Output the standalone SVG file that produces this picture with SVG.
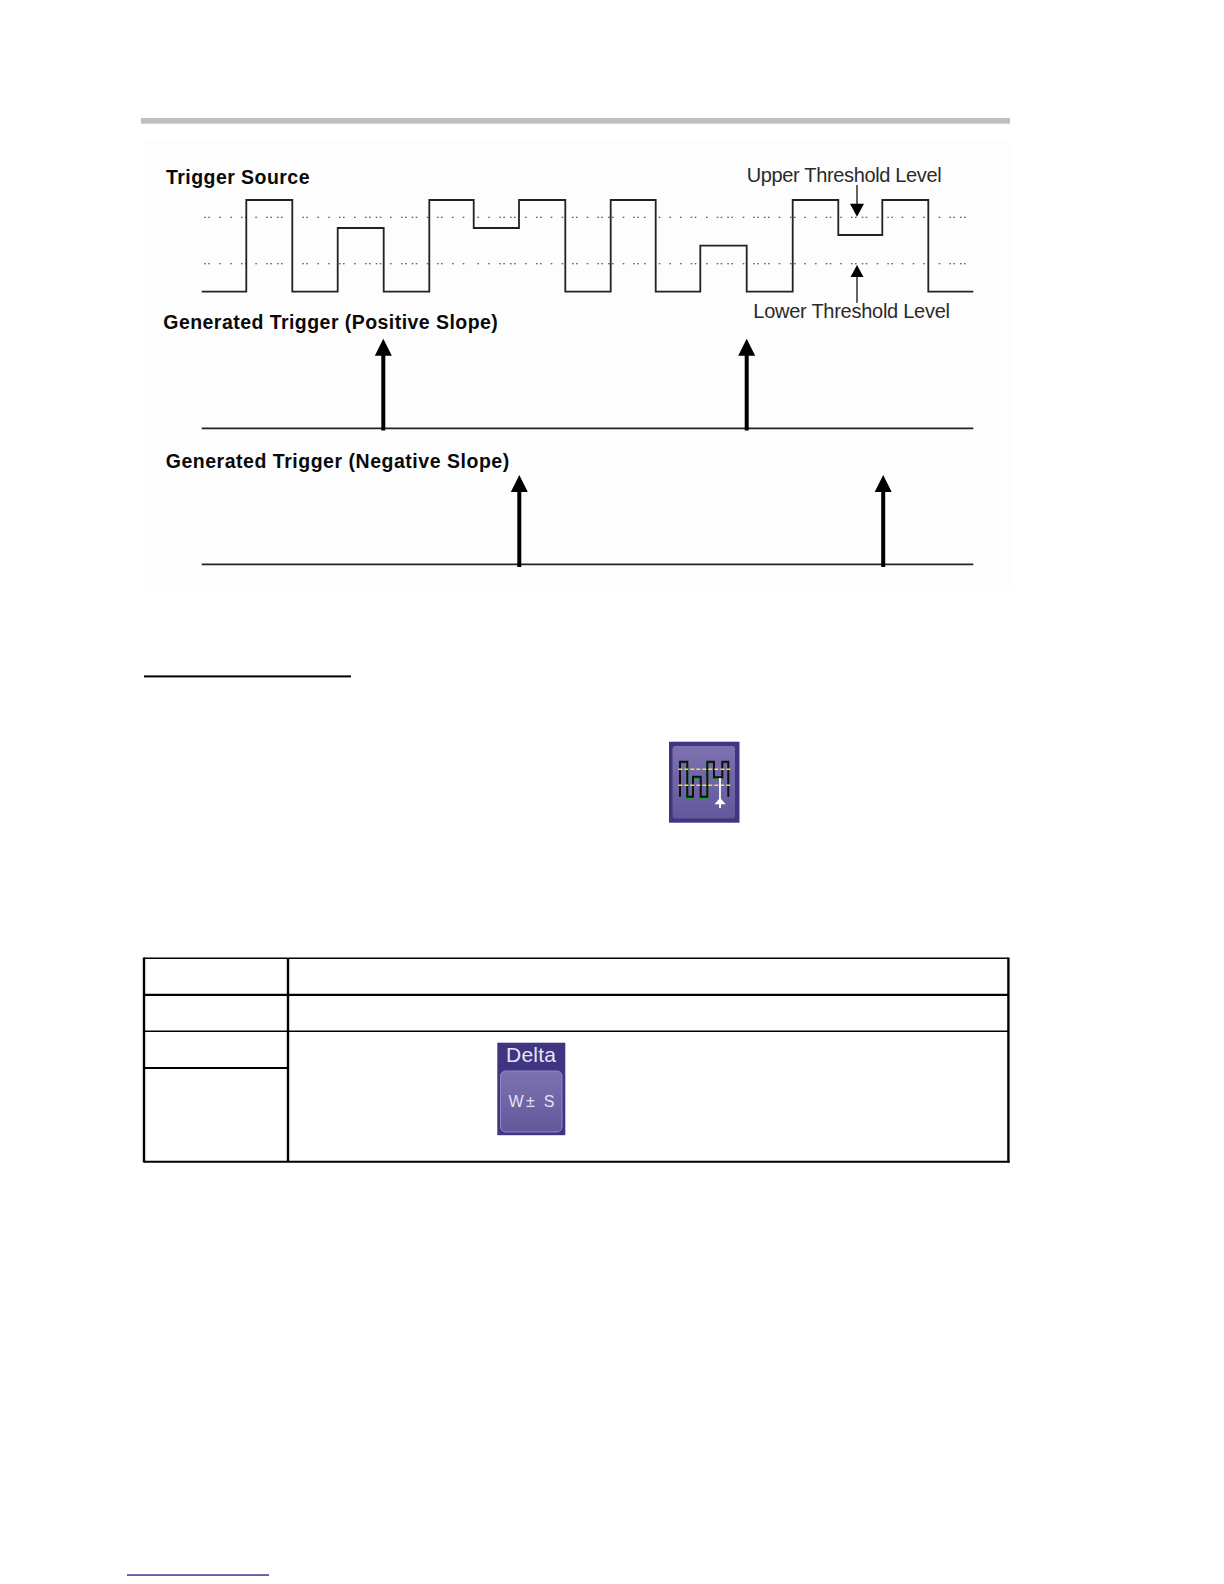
<svg xmlns="http://www.w3.org/2000/svg" width="1224" height="1584" viewBox="0 0 1224 1584">
<style>
.b{font-family:"Liberation Sans",Arial,sans-serif;font-weight:700;font-size:19.5px;fill:#0a0a0a}
.r{font-family:"Liberation Sans",Arial,sans-serif;font-size:20px;fill:#2a2a2a}
.w{fill:none;stroke:#222;stroke-width:1.8}
.s{fill:none;stroke:#000;stroke-width:4}
.d{fill:none;stroke:#333;stroke-width:1.1}
.t{stroke:#000;fill:none}
</style>
<defs>
<path id="dots" class="d" d="M204.3 0h1.6M208.3 0h1.6M219.3 0h1.6M230.3 0h1.6M241 0h1.6M245 0h1.6M255.3 0h1.6M266.3 0h1.6M270.3 0h1.6M277 0h1.6M281 0h1.6M302.3 0h1.6M306.3 0h1.6M317.3 0h1.6M328.3 0h1.6M339 0h1.6M343 0h1.6M354 0h1.6M365 0h1.6M369 0h1.6M375.7 0h1.6M379.7 0h1.6M390 0h1.6M401 0h1.6M405 0h1.6M411.7 0h1.6M415.7 0h1.6M426.7 0h1.6M437 0h1.6M441 0h1.6M452 0h1.6M462.7 0h1.6M477.3 0h1.6M488.3 0h1.6M499.3 0h1.6M503.3 0h1.6M510 0h1.6M514 0h1.6M525 0h1.6M536 0h1.6M540 0h1.6M550.7 0h1.6M561.7 0h1.6M572 0h1.6M576 0h1.6M586.7 0h1.6M597.3 0h1.6M601.3 0h1.6M608 0h1.6M612 0h1.6M622.7 0h1.6M633.3 0h1.6M637.3 0h1.6M644 0h1.6M658.7 0h1.6M669.3 0h1.6M680 0h1.6M690.7 0h1.6M694.7 0h1.6M706 0h1.6M716.7 0h1.6M720.7 0h1.6M727.3 0h1.6M731.3 0h1.6M742.7 0h1.6M753.3 0h1.6M757.3 0h1.6M764 0h1.6M768 0h1.6M778.7 0h1.6M790 0h1.6M794 0h1.6M804.3 0h1.6M815 0h1.6M825.7 0h1.6M829.7 0h1.6M840.3 0h1.6M851 0h1.6M855 0h1.6M861.7 0h1.6M865.7 0h1.6M876.7 0h1.6M887.3 0h1.6M891.3 0h1.6M901.7 0h1.6M912.7 0h1.6M923.3 0h1.6M938.7 0h1.6M949.3 0h1.6M953.3 0h1.6M960 0h1.6M964 0h1.6"/>
<linearGradient id="btn" x1="0" y1="0" x2="0" y2="1"><stop offset="0" stop-color="#7d71b0"/><stop offset="1" stop-color="#63589b"/></linearGradient>
</defs>
<rect width="1224" height="1584" fill="#fff"/>
<rect x="144" y="140" width="866" height="450" fill="#fdfdfd"/>
<rect id="rule" x="141" y="118" width="869" height="5.7" fill="#bfbfbf"/>
<g id="labels">
<text class="b" x="166" y="183.5" textLength="143.5" lengthAdjust="spacing">Trigger Source</text>
<text class="b" x="163.3" y="328.5" textLength="334.5" lengthAdjust="spacing">Generated Trigger (Positive Slope)</text>
<text class="b" x="165.7" y="468" textLength="343.5" lengthAdjust="spacing">Generated Trigger (Negative Slope)</text>
<text class="r" x="746.7" y="181.5" textLength="195" lengthAdjust="spacing">Upper Threshold Level</text>
<text class="r" x="753.3" y="318.3" textLength="196.7" lengthAdjust="spacing">Lower Threshold Level</text>
</g>
<g id="thresholds">
<use href="#dots" y="217.3"/>
<use href="#dots" y="263.7"/>
</g>
<g id="connectors">
<path id="source-wave" class="w" d="M201.7 291.7H246.3V200H292.3V291.7H337.7V228H383.7V291.7H429.3V200H473.7V228H519V200H565.3V291.7H610.7V200H655.7V291.7H700.3V245.7H746.7V291.7H792.7V200H838.3V235H882.3V200H928.3V291.7H973.3"/>
<path class="w" d="M201.7 428.3H973.3"/>
<path class="w" d="M201.7 564.3H973.3"/>
<path class="s" d="M383.3 352V430.5"/><path d="M383.3 338.7l8.5 17h-17z"/>
<path class="s" d="M746.7 352V430.5"/><path d="M746.7 338.7l8.5 17h-17z"/>
<path class="s" d="M519.3 488V567"/><path d="M519.3 475l8.5 17h-17z"/>
<path class="s" d="M883.2 488V567"/><path d="M883.2 475l8.5 17h-17z"/>
<path d="M857 185V206" stroke="#222" stroke-width="1.4" fill="none"/><path d="M857 216.7l7-13h-14z"/>
<path d="M857 275V302.7" stroke="#222" stroke-width="1.4" fill="none"/><path d="M857 265l6.5 12h-13z"/>
</g>
<rect id="underline" x="144" y="675.4" width="207" height="2" fill="#000"/>
<g id="icon-trigger">
<rect x="669" y="741.7" width="70.5" height="81" fill="#3f3580"/>
<rect x="672.5" y="746" width="62.5" height="72.5" rx="3" fill="url(#btn)"/>
<path d="M680 796.7V761.7H687.3V796.7H693V776.7H700.7V796.7H707.3V761.7H714V777.3H722.3V761.7H728.3V796.7" fill="none" stroke="#1c9a3a" stroke-width="2" transform="translate(0 1.2)"/>
<path d="M680 796.7V761.7H687.3V796.7H693V776.7H700.7V796.7H707.3V761.7H714V777.3H722.3V761.7H728.3V796.7" fill="none" stroke="#111" stroke-width="2"/>
<path d="M678.3 769.3H730.7M678.3 785.3H730.7" stroke="#e8e060" stroke-width="1.6" stroke-dasharray="4 2" fill="none"/>
<path d="M720 778V808" stroke="#fff" stroke-width="1.8"/><path d="M714.5 804.3L720 797.7L725.7 804.3Z" fill="#fff"/>
</g>
<g id="table">
<path class="t" d="M144 958.3H1008" stroke-width="1.5"/>
<path class="t" d="M144 1161.7H1009.5" stroke-width="2"/>
<path class="t" d="M144 957.5V1162.5" stroke-width="2.4"/>
<path class="t" d="M1008.4 957.5V1162.7" stroke-width="2.4"/>
<path class="t" d="M288 958V1162" stroke-width="2.4"/>
<path class="t" d="M144 994.8H1008" stroke-width="2.2"/>
<path class="t" d="M144 1031.3H1008" stroke-width="1.4"/>
<path class="t" d="M144 1068H288" stroke-width="2.2"/>
</g>
<g id="icon-delta">
<rect x="497.3" y="1042.7" width="68" height="92.5" fill="#3f3580"/>
<rect x="500.5" y="1071" width="61.5" height="61" rx="5" fill="url(#btn)" stroke="#9087c4" stroke-width="1"/>
<text x="531" y="1062" text-anchor="middle" font-family="Liberation Sans, Arial, sans-serif" font-size="21" fill="#e8e6f5" textLength="50" lengthAdjust="spacing">Delta</text>
<text x="531.5" y="1107" text-anchor="middle" font-family="Liberation Sans, Arial, sans-serif" font-size="16" fill="#e4e2f4" textLength="46" lengthAdjust="spacing">W± S</text>
</g>
<rect id="footnote-rule" x="127" y="1574.4" width="142" height="1.3" fill="#1a1a8a"/>
</svg>
